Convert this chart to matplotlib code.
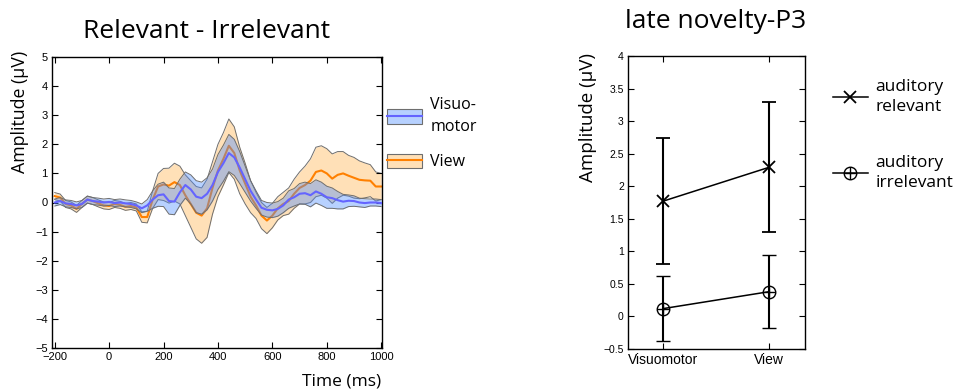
import numpy as np
import matplotlib
matplotlib.use("Agg")
import matplotlib.pyplot as plt
from matplotlib.patches import Patch
from matplotlib.lines import Line2D
from matplotlib.path import Path
from matplotlib.legend_handler import HandlerLine2D

# ---------------- data ----------------
time_ms = np.arange(-200, 1001, 20)

visuomotor_mean = [0.00, 0.05, -0.03, -0.05, -0.10, -0.05, 0.10, 0.05, 0.03, 0.00,
                   0.02, -0.02, 0.00, -0.03, -0.05, -0.10, -0.20, -0.10, 0.10, 0.25,
                   0.28, 0.05, 0.03, 0.35, 0.60, 0.45, 0.20, 0.15, 0.30, 0.60,
                   1.05, 1.35, 1.70, 1.55, 1.20, 0.80, 0.40, 0.10, -0.18, -0.25,
                   -0.27, -0.22, -0.10, 0.10, 0.18, 0.30, 0.32, 0.25, 0.38, 0.30,
                   0.18, 0.15, 0.08, 0.03, 0.06, 0.05, 0.00, -0.02, 0.00, 0.00, -0.02]
visuomotor_sem = [0.12, 0.12, 0.12, 0.12, 0.12, 0.12, 0.12, 0.12, 0.12, 0.12,
                  0.12, 0.12, 0.12, 0.12, 0.12, 0.12, 0.15, 0.20, 0.30, 0.38,
                  0.42, 0.45, 0.45, 0.45, 0.45, 0.50, 0.55, 0.55, 0.55, 0.55,
                  0.60, 0.62, 0.64, 0.62, 0.55, 0.45, 0.35, 0.30, 0.25, 0.25,
                  0.25, 0.25, 0.25, 0.30, 0.30, 0.35, 0.38, 0.40, 0.40, 0.40,
                  0.38, 0.35, 0.30, 0.25, 0.20, 0.18, 0.15, 0.15, 0.12, 0.12, 0.12]
view_mean = [0.22, 0.17, -0.05, -0.10, -0.22, -0.05, 0.10, 0.05, -0.03, -0.10,
             -0.12, -0.05, -0.08, -0.15, -0.12, -0.17, -0.50, -0.50, 0.10, 0.55,
             0.62, 0.58, 0.70, 0.60, 0.25, -0.05, -0.35, -0.45, -0.20, 0.50,
             1.10, 1.50, 1.95, 1.70, 1.10, 0.65, 0.20, -0.10, -0.45, -0.62,
             -0.45, -0.20, -0.05, 0.05, 0.30, 0.50, 0.60, 0.75, 1.05, 1.10,
             1.00, 0.82, 0.95, 1.00, 0.92, 0.85, 0.78, 0.76, 0.75, 0.55, 0.55]
view_sem = [0.12, 0.12, 0.12, 0.12, 0.12, 0.12, 0.12, 0.12, 0.12, 0.12,
            0.12, 0.12, 0.12, 0.12, 0.12, 0.12, 0.18, 0.20, 0.30, 0.45,
            0.55, 0.60, 0.65, 0.65, 0.70, 0.80, 0.90, 0.95, 1.00, 0.90,
            0.90, 0.90, 0.92, 0.90, 0.80, 0.70, 0.55, 0.45, 0.45, 0.45,
            0.42, 0.40, 0.40, 0.45, 0.50, 0.55, 0.65, 0.75, 0.85, 0.85,
            0.85, 0.85, 0.80, 0.75, 0.70, 0.70, 0.65, 0.60, 0.55, 0.50, 0.45]

erp_xticks = [-200, 0, 200, 400, 600, 800, 1000]
erp_yticks = [-5, -4, -3, -2, -1, 0, 1, 2, 3, 4, 5]

conditions = ["Visuomotor", "View"]
relevant_amp = [1.77, 2.29]
relevant_err = [0.97, 1.00]
irrelevant_amp = [0.12, 0.38]
irrelevant_err = [0.50, 0.56]
p3_yticks = [-0.5, 0, 0.5, 1, 1.5, 2, 2.5, 3, 3.5, 4]

# ---------------- style ----------------
LABEL_FONT = ["Open Sans", "DejaVu Sans"]
TICK_FONT = ["Liberation Sans", "DejaVu Sans"]

BLUE_LINE = "#6464ff"
BLUE_FILL = "#4d8cff"
ORANGE_LINE = "#ff8000"
ORANGE_FILL = "#ffb24d"
EDGE = "#6e6e6e"
FILL_ALPHA = 0.4

W, H = 960, 392


def fx(px):
    return px / W


def fy(px):
    return 1 - px / H


def fmt_num(v):
    return ("%g" % v).replace("-", "\u2212")


fig = plt.figure(figsize=(9.6, 3.92), dpi=100)

# ---------------- ERP difference waves ----------------
ax = fig.add_axes([fx(52), fy(348), 330 / W, 291 / H])
t = time_ms
vm = np.asarray(visuomotor_mean)
vs = np.asarray(visuomotor_sem)
om = np.asarray(view_mean)
osd = np.asarray(view_sem)

ax.fill_between(t, om - osd, om + osd, color=ORANGE_FILL, alpha=FILL_ALPHA, lw=0, zorder=1)
ax.plot(t, om + osd, color=EDGE, lw=0.7, zorder=1.5)
ax.plot(t, om - osd, color=EDGE, lw=0.7, zorder=1.5)
ax.plot(t, om, color=ORANGE_LINE, lw=1.5, zorder=2)

ax.fill_between(t, vm - vs, vm + vs, color=BLUE_FILL, alpha=FILL_ALPHA, lw=0, zorder=3)
ax.plot(t, vm + vs, color=EDGE, lw=0.7, zorder=3.5)
ax.plot(t, vm - vs, color=EDGE, lw=0.7, zorder=3.5)
ax.plot(t, vm, color=BLUE_LINE, lw=1.5, zorder=4)

ax.set_xlim(-210, 1003)
ax.set_ylim(-5, 5)
ax.set_xticks(erp_xticks)
ax.set_xticklabels([fmt_num(v) for v in erp_xticks], family=TICK_FONT, fontsize=8)
ax.set_yticks(erp_yticks)
ax.set_yticklabels([fmt_num(v) for v in erp_yticks], family=TICK_FONT, fontsize=8)
ax.tick_params(direction="in", top=True, right=True, length=4, width=0.8, pad=3)
for sp in ax.spines.values():
    sp.set_linewidth(1.0)

fig.text(fx(207), fy(31), "Relevant - Irrelevant", family=LABEL_FONT,
         fontsize=19, ha="center", va="center")
fig.text(fx(20), fy(112), "Amplitude (\u00b5V)", family=LABEL_FONT,
         fontsize=12.8, rotation=90, ha="center", va="center")
fig.text(fx(381), fy(382), "Time (ms)", family=LABEL_FONT,
         fontsize=12.5, ha="right", va="center")


def band_handle(fill, line):
    return (Patch(facecolor=fill, alpha=FILL_ALPHA, edgecolor="none"),
            Patch(facecolor="none", edgecolor=EDGE, lw=0.8),
            Line2D([], [], color=line, lw=1.5))


for handle, label, yc in [(band_handle(BLUE_FILL, BLUE_LINE), "Visuo-\nmotor", 116),
                          (band_handle(ORANGE_FILL, ORANGE_LINE), "View", 162)]:
    leg = fig.legend([handle], [label], loc="center left",
                     bbox_to_anchor=(fx(387), fy(yc)), frameon=False,
                     borderpad=0, borderaxespad=0, handlelength=2.22,
                     handleheight=1.05, handletextpad=0.5,
                     prop={"family": LABEL_FONT, "size": 11.5})
    for txt in leg.get_texts():
        txt.set_linespacing(1.45)

# ---------------- late novelty-P3 ----------------
ax2 = fig.add_axes([fx(628), fy(349), 177 / W, 293 / H])
xpos = [1, 2]

circle = Path.unit_circle()
plus = Path([(-1, 0), (1, 0), (0, -1), (0, 1)],
            [Path.MOVETO, Path.LINETO, Path.MOVETO, Path.LINETO])
oplus = Path.make_compound_path(circle, plus)

ax2.errorbar(xpos, relevant_amp, yerr=relevant_err, color="k", lw=1.1,
             elinewidth=1.5, capsize=5, capthick=1.5, marker="x",
             markersize=9, mew=1.3)
ax2.errorbar(xpos, irrelevant_amp, yerr=irrelevant_err, color="k", lw=1.1,
             elinewidth=1.5, capsize=5, capthick=1.5, marker=oplus,
             markersize=9, mfc="none", mew=1.0)

ax2.set_xlim(0.67, 2.34)
ax2.set_ylim(-0.5, 4)
ax2.set_xticks(xpos)
ax2.set_xticklabels(conditions, family=TICK_FONT, fontsize=10)
ax2.set_yticks(p3_yticks)
ax2.set_yticklabels([fmt_num(v) for v in p3_yticks], family=TICK_FONT, fontsize=7.5)
ax2.tick_params(direction="in", top=True, right=True, length=4, width=0.8, pad=3)
for sp in ax2.spines.values():
    sp.set_linewidth(1.0)

fig.text(fx(716), fy(22), "late novelty-P3", family=LABEL_FONT,
         fontsize=19, ha="center", va="center")
fig.text(fx(588), fy(118), "Amplitude (\u00b5V)", family=LABEL_FONT,
         fontsize=13.5, rotation=90, ha="center", va="center")


class LeftMarkerHandler(HandlerLine2D):
    """Legend line with a single marker at its left end."""

    def get_xdata(self, legend, xdescent, ydescent, width, height, fontsize):
        xdata = np.array([-xdescent, -xdescent + width], float)
        return xdata, np.array([-xdescent], float)


rel_handle = Line2D([], [], color="k", lw=1.1, marker="x", markersize=9, mew=1.3)
irr_handle = Line2D([], [], color="k", lw=1.1, marker=oplus, markersize=9,
                    mfc="none", mew=1.0)
for handle, label, yc in [(rel_handle, "auditory\nrelevant", 97),
                          (irr_handle, "auditory\nirrelevant", 173)]:
    leg = fig.legend([handle], [label], loc="center left",
                     bbox_to_anchor=(fx(833), fy(yc)), frameon=False,
                     borderpad=0, borderaxespad=0, handlelength=2.0,
                     handletextpad=0.45,
                     handler_map={handle: LeftMarkerHandler()},
                     prop={"family": LABEL_FONT, "size": 12.5})
    for txt in leg.get_texts():
        txt.set_linespacing(1.35)

fig.savefig("out.png", dpi=100)
